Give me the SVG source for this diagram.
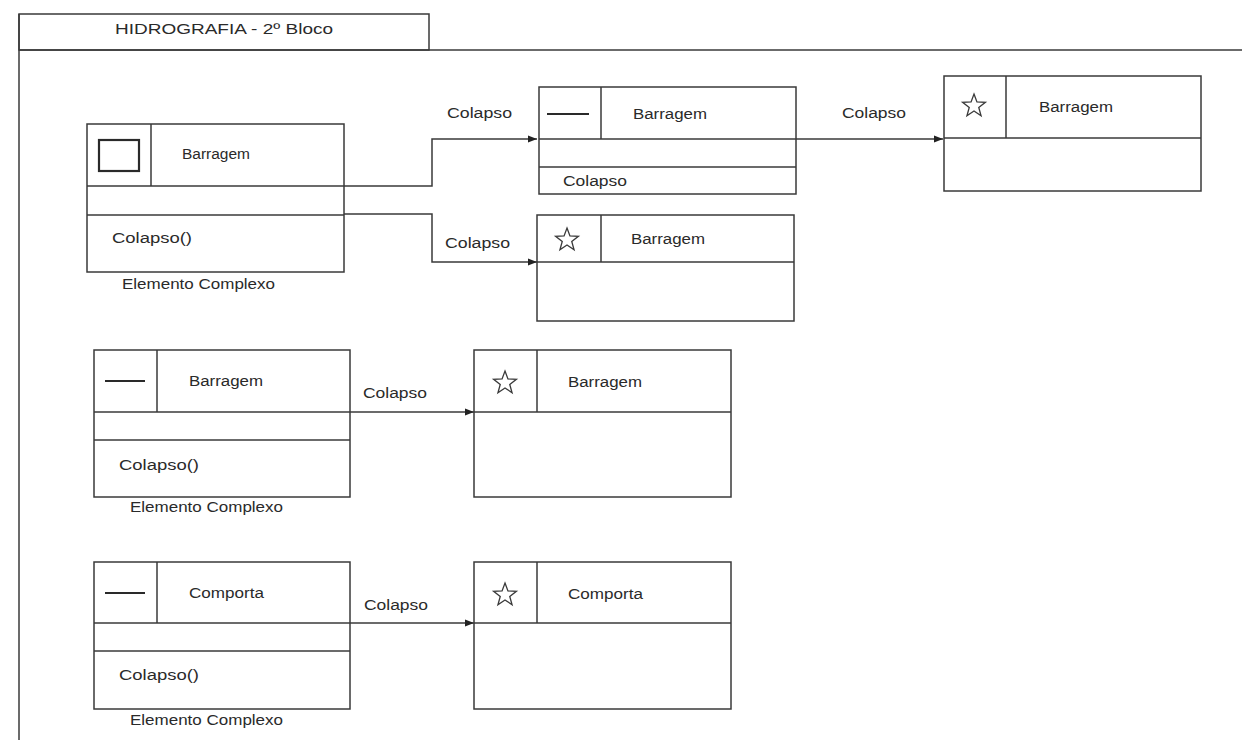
<svg xmlns="http://www.w3.org/2000/svg" xmlns:xlink="http://www.w3.org/1999/xlink" width="1242" height="740" viewBox="0 0 1242 740">
<style>
.box{fill:#fff;stroke:#3a3a3a;stroke-width:1.5}
.ln{fill:none;stroke:#3a3a3a;stroke-width:1.5}
.ic{fill:none;stroke:#2a2a2a;stroke-width:2.2}
.st{fill:none;stroke:#3a3a3a;stroke-width:1.3;stroke-linejoin:miter}
text{font-family:"Liberation Sans",Arial,sans-serif;font-size:14px;fill:#2a2a2a}
.t{font-size:15px}
</style>
<defs>
<marker id="ar" viewBox="0 0 10 10" refX="10" refY="5" markerWidth="9" markerHeight="9" markerUnits="userSpaceOnUse" orient="auto">
<path d="M0,1 L10,5 L0,9 Z" fill="#222"/>
</marker>
<path id="star" class="st" d="M0,-12 L2.94,-4.05 L11.41,-3.71 L4.76,1.55 L7.05,9.71 L0,5 L-7.05,9.71 L-4.76,1.55 L-11.41,-3.71 L-2.94,-4.05 Z"/>
</defs>
<rect width="1242" height="740" fill="#fff"/>
<g id="frame">
<rect class="box" x="19" y="14" width="410" height="36"/>
<line class="ln" x1="19" y1="50" x2="1242" y2="50"/>
<line class="ln" x1="19" y1="14" x2="19" y2="740"/>
<text class="t" x="115" y="34" textLength="218" lengthAdjust="spacingAndGlyphs">HIDROGRAFIA - 2º Bloco</text>
</g>
<g id="connectors">
<polyline class="ln" points="344,186 432,186 432,139 537,139" marker-end="url(#ar)"/>
<polyline class="ln" points="344,214 432,214 432,262 537,262" marker-end="url(#ar)"/>
<line class="ln" x1="796" y1="139" x2="943" y2="139" marker-end="url(#ar)"/>
<line class="ln" x1="350" y1="412" x2="474" y2="412" marker-end="url(#ar)"/>
<line class="ln" x1="350" y1="623" x2="474" y2="623" marker-end="url(#ar)"/>
<text x="447" y="118" textLength="65" lengthAdjust="spacingAndGlyphs">Colapso</text>
<text x="445" y="248" textLength="65" lengthAdjust="spacingAndGlyphs">Colapso</text>
<text x="842" y="118" textLength="64" lengthAdjust="spacingAndGlyphs">Colapso</text>
<text x="363" y="398" textLength="64" lengthAdjust="spacingAndGlyphs">Colapso</text>
<text x="364" y="610" textLength="64" lengthAdjust="spacingAndGlyphs">Colapso</text>
</g>
<g id="node1">
<rect class="box" x="87" y="124" width="257" height="148"/>
<line class="ln" x1="151" y1="124" x2="151" y2="186"/>
<line class="ln" x1="87" y1="186" x2="344" y2="186"/>
<line class="ln" x1="87" y1="215" x2="344" y2="215"/>
<rect class="ic" x="99" y="140" width="40" height="31"/>
<text x="182" y="159" textLength="68" lengthAdjust="spacingAndGlyphs">Barragem</text>
<text x="112" y="243" textLength="80" lengthAdjust="spacingAndGlyphs">Colapso()</text>
<text x="122" y="289" textLength="153" lengthAdjust="spacingAndGlyphs">Elemento Complexo</text>
</g>
<g id="node2">
<rect class="box" x="539" y="87" width="257" height="107"/>
<line class="ln" x1="601" y1="87" x2="601" y2="139"/>
<line class="ln" x1="539" y1="139" x2="796" y2="139"/>
<line class="ln" x1="539" y1="167" x2="796" y2="167"/>
<line class="ic" x1="547" y1="114" x2="589" y2="114"/>
<text x="633" y="119" textLength="74" lengthAdjust="spacingAndGlyphs">Barragem</text>
<text x="563" y="186" textLength="64" lengthAdjust="spacingAndGlyphs">Colapso</text>
</g>
<g id="node3">
<rect class="box" x="537" y="215" width="257" height="106"/>
<line class="ln" x1="601" y1="215" x2="601" y2="262"/>
<line class="ln" x1="537" y1="262" x2="794" y2="262"/>
<use xlink:href="#star" x="567" y="240"/>
<text x="631" y="244" textLength="74" lengthAdjust="spacingAndGlyphs">Barragem</text>
</g>
<g id="node4">
<rect class="box" x="944" y="76" width="257" height="115"/>
<line class="ln" x1="1006" y1="76" x2="1006" y2="138"/>
<line class="ln" x1="944" y1="138" x2="1201" y2="138"/>
<use xlink:href="#star" x="974" y="106"/>
<text x="1039" y="112" textLength="74" lengthAdjust="spacingAndGlyphs">Barragem</text>
</g>
<g id="node5">
<rect class="box" x="94" y="350" width="256" height="147"/>
<line class="ln" x1="157" y1="350" x2="157" y2="412"/>
<line class="ln" x1="94" y1="412" x2="350" y2="412"/>
<line class="ln" x1="94" y1="440" x2="350" y2="440"/>
<line class="ic" x1="105" y1="381" x2="145" y2="381"/>
<text x="189" y="386" textLength="74" lengthAdjust="spacingAndGlyphs">Barragem</text>
<text x="119" y="470" textLength="80" lengthAdjust="spacingAndGlyphs">Colapso()</text>
<text x="130" y="512" textLength="153" lengthAdjust="spacingAndGlyphs">Elemento Complexo</text>
</g>
<g id="node6">
<rect class="box" x="474" y="350" width="257" height="147"/>
<line class="ln" x1="537" y1="350" x2="537" y2="412"/>
<line class="ln" x1="474" y1="412" x2="731" y2="412"/>
<use xlink:href="#star" x="505" y="383"/>
<text x="568" y="387" textLength="74" lengthAdjust="spacingAndGlyphs">Barragem</text>
</g>
<g id="node7">
<rect class="box" x="94" y="562" width="256" height="147"/>
<line class="ln" x1="157" y1="562" x2="157" y2="623"/>
<line class="ln" x1="94" y1="623" x2="350" y2="623"/>
<line class="ln" x1="94" y1="651" x2="350" y2="651"/>
<line class="ic" x1="105" y1="593" x2="145" y2="593"/>
<text x="189" y="598" textLength="75" lengthAdjust="spacingAndGlyphs">Comporta</text>
<text x="119" y="680" textLength="80" lengthAdjust="spacingAndGlyphs">Colapso()</text>
<text x="130" y="725" textLength="153" lengthAdjust="spacingAndGlyphs">Elemento Complexo</text>
</g>
<g id="node8">
<rect class="box" x="474" y="562" width="257" height="147"/>
<line class="ln" x1="537" y1="562" x2="537" y2="623"/>
<line class="ln" x1="474" y1="623" x2="731" y2="623"/>
<use xlink:href="#star" x="505" y="595"/>
<text x="568" y="599" textLength="75" lengthAdjust="spacingAndGlyphs">Comporta</text>
</g>
</svg>
